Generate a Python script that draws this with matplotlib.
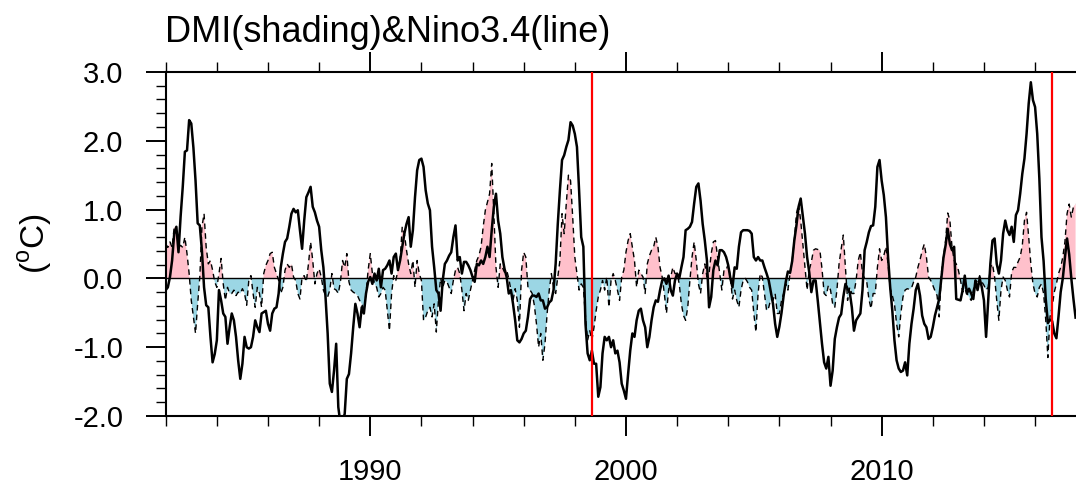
import numpy as np
import matplotlib
matplotlib.use("Agg")
import matplotlib.pyplot as plt
from matplotlib.ticker import FixedLocator, FixedFormatter

plt.rcParams['font.family'] = ['Liberation Sans', 'DejaVu Sans']
plt.rcParams['mathtext.fontset'] = 'custom'
plt.rcParams['mathtext.rm'] = 'Liberation Sans'
plt.rcParams['axes.unicode_minus'] = False

# ---------------- data (monthly, starting Jan 1982) ----------------
start_year = 1982

nino34 = [
    # 1982
    -0.17, -0.13, 0.02, 0.26, 0.65, 0.75, 0.38, 0.90, 1.33, 1.84, 1.86, 2.30,
    # 1983
    2.25, 1.90, 1.42, 0.80, 0.77, 0.40, -0.13, -0.39, -0.42, -0.85, -1.22, -1.10,
    # 1984
    -0.90, -0.17, -0.32, -0.51, -0.56, -0.95, -0.71, -0.51, -0.61, -0.85, -1.19, -1.46,
    # 1985
    -1.24, -0.85, -1.00, -1.02, -1.00, -0.85, -0.61, -0.71, -0.78, -0.51, -0.49, -0.47,
    # 1986
    -0.66, -0.76, -0.51, -0.44, -0.42, -0.22, 0.16, 0.36, 0.53, 0.58, 0.75, 0.94,
    # 1987
    1.01, 0.96, 0.99, 0.70, 0.43, 0.84, 1.18, 1.25, 1.33, 1.04, 0.96, 0.84,
    # 1988
    0.75, 0.41, 0.16, -0.27, -0.80, -1.53, -1.65, -1.34, -0.95, -1.87, -2.11, -2.06,
    # 1989
    -1.97, -1.46, -1.39, -1.09, -0.71, -0.37, -0.51, -0.71, -0.42, -0.51, -0.22, -0.05,
    # 1990
    0.02, -0.08, 0.07, -0.03, 0.14, -0.13, 0.12, 0.14, 0.19, 0.26, 0.07, 0.31,
    # 1991
    0.36, 0.12, 0.26, 0.46, 0.65, 0.79, 0.89, 0.46, 0.70, 1.18, 1.57, 1.72,
    # 1992
    1.74, 1.62, 1.28, 1.09, 0.99, 0.46, 0.16, -0.17, -0.22, -0.47, -0.03, 0.21,
    # 1993
    0.26, 0.33, 0.38, 0.60, 0.77, 0.26, 0.31, 0.07, 0.24, 0.24, 0.19, 0.12,
    # 1994
    0.02, -0.05, 0.21, 0.19, 0.26, 0.21, 0.31, 0.46, 0.31, 0.70, 1.04, 1.23,
    # 1995
    0.84, 0.65, 0.31, 0.14, 0.02, -0.22, -0.17, -0.37, -0.61, -0.90, -0.93, -0.88,
    # 1996
    -0.80, -0.76, -0.56, -0.30, -0.25, -0.25, -0.27, -0.22, -0.32, -0.32, -0.44, -0.42,
    # 1997
    -0.35, -0.32, -0.17, 0.21, 0.79, 1.28, 1.72, 1.79, 1.91, 2.01, 2.27, 2.22,
    # 1998
    2.10, 1.91, 1.28, 0.60, 0.46, -0.66, -1.09, -1.19, -1.05, -1.24, -1.24, -1.72,
    # 1999
    -1.58, -1.09, -0.85, -0.90, -0.85, -1.00, -0.90, -1.09, -1.05, -1.22, -1.53, -1.63,
    # 2000
    -1.75, -1.39, -1.05, -0.80, -0.85, -0.61, -0.47, -0.44, -0.61, -0.71, -1.00, -0.85,
    # 2001
    -0.61, -0.42, -0.32, -0.34, -0.17, -0.03, 0.00, -0.08, 0.04, -0.17, -0.25, -0.03,
    # 2002
    0.07, 0.00, 0.16, 0.31, 0.70, 0.72, 0.75, 0.82, 1.09, 1.33, 1.38, 1.13,
    # 2003
    0.79, 0.55, 0.26, -0.42, -0.27, 0.12, 0.26, 0.19, 0.41, 0.41, 0.38, 0.31,
    # 2004
    0.19, 0.00, -0.13, 0.16, 0.14, 0.46, 0.67, 0.70, 0.70, 0.70, 0.69, 0.65,
    # 2005
    0.31, 0.26, 0.31, 0.26, 0.26, 0.16, 0.07, -0.03, -0.20, -0.37, -0.66, -0.85,
    # 2006
    -0.70, -0.50, -0.25, -0.05, 0.10, 0.08, 0.25, 0.55, 0.77, 1.04, 1.16, 0.90,
    # 2007
    0.65, 0.31, 0.09, -0.20, -0.03, -0.03, -0.32, -0.63, -0.95, -1.22, -1.31, -1.14,
    # 2008
    -1.56, -1.34, -0.88, -0.71, -0.57, -0.52, -0.27, -0.08, -0.15, -0.20, -0.42, -0.76,
    # 2009
    -0.61, -0.56, -0.51, -0.17, 0.41, 0.53, 0.67, 0.76, 0.77, 1.04, 1.62, 1.72,
    # 2010
    1.42, 1.21, 0.89, 0.31, -0.13, -0.47, -0.90, -1.19, -1.31, -1.36, -1.34, -1.22,
    # 2011
    -1.41, -0.95, -0.66, -0.44, -0.17, -0.08, -0.25, -0.54, -0.66, -0.71, -0.88, -0.85,
    # 2012
    -0.71, -0.54, -0.42, -0.30, 0.00, 0.30, 0.48, 0.72, 0.50, 0.41, 0.46, -0.30,
    # 2013
    -0.31, -0.32, -0.17, 0.04, -0.22, -0.15, -0.22, -0.30, -0.03, -0.17, 0.00, -0.13,
    # 2014
    -0.32, -0.85, -0.32, 0.21, 0.55, 0.58, 0.21, 0.07, 0.26, 0.65, 0.84, 0.70,
    # 2015
    0.63, 0.75, 0.53, 0.92, 0.99, 1.23, 1.52, 1.74, 2.10, 2.54, 2.85, 2.59,
    # 2016
    2.49, 2.10, 1.45, 0.60, 0.25, -0.30, -0.65, -0.60, -0.62, -0.80, -0.87, -0.55,
    # 2017
    -0.20, 0.00, 0.30, 0.58, 0.35, 0.00, -0.30, -0.57,
]

dmi = [
    # 1982
    0.50, 0.45, 0.53, 0.45, 0.75, 0.70, 0.45, 0.48, 0.45, 0.60, 0.36, 0.07,
    # 1983
    -0.32, -0.56, -0.80, -0.37, 0.02, 0.75, 0.94, 0.45, 0.21, 0.26, 0.12, -0.05,
    # 1984
    -0.13, 0.07, 0.29, -0.08, -0.32, -0.13, -0.22, -0.22, -0.17, -0.25, -0.20, -0.22,
    # 1985
    -0.15, -0.22, -0.39, -0.03, 0.04, -0.22, -0.42, -0.13, -0.22, -0.42, 0.07, 0.19,
    # 1986
    0.26, 0.36, 0.38, 0.16, 0.07, -0.03, -0.22, -0.13, 0.12, 0.21, 0.16, 0.21,
    # 1987
    0.02, -0.03, -0.22, -0.30, 0.02, 0.04, -0.05, 0.21, 0.53, 0.26, -0.08, 0.07,
    # 1988
    0.14, 0.02, -0.17, -0.25, -0.27, -0.17, 0.07, -0.15, -0.17, -0.22, -0.05, 0.26,
    # 1989
    0.16, 0.36, -0.05, -0.17, -0.20, -0.22, -0.25, -0.32, -0.37, -0.47, -0.22, 0.12,
    # 1990
    0.36, 0.07, -0.08, -0.13, -0.27, -0.22, -0.13, -0.17, -0.47, -0.76, -0.22, 0.04,
    # 1991
    -0.03, 0.12, 0.26, 0.75, 0.65, 0.41, 0.21, 0.07, 0.26, -0.13, 0.26, 0.07,
    # 1992
    -0.03, -0.61, -0.56, -0.47, -0.42, -0.56, -0.37, -0.78, -0.32, 0.00, -0.13, -0.03,
    # 1993
    -0.05, -0.13, -0.22, -0.03, 0.12, 0.16, 0.07, -0.17, -0.47, -0.22, -0.32, -0.17,
    # 1994
    -0.03, 0.12, 0.26, 0.33, 0.46, 0.75, 0.99, 1.11, 1.23, 1.67, 0.94, 0.16,
    # 1995
    -0.13, 0.21, 0.16, 0.09, 0.12, 0.00, -0.17, -0.32, -0.15, -0.32, -0.71, 0.12,
    # 1996
    0.38, 0.31, -0.13, -0.17, -0.22, -0.39, -0.66, -1.00, -0.80, -1.19, -0.95, -0.51,
    # 1997
    -0.17, 0.07, -0.13, -0.22, 0.02, 0.26, 0.94, 0.65, 1.09, 1.50, 1.42, 0.89,
    # 1998
    0.31, 0.07, -0.17, -0.08, -0.13, -0.56, -0.90, -0.76, -0.90, -0.71, -0.47, -0.27,
    # 1999
    -0.17, -0.03, -0.17, 0.02, -0.42, -0.03, 0.07, -0.03, -0.17, -0.32, 0.02, 0.12,
    # 2000
    0.38, 0.55, 0.65, 0.46, 0.26, -0.13, 0.12, 0.07, 0.02, -0.22, 0.21, 0.33,
    # 2001
    0.41, 0.46, 0.60, 0.46, 0.16, 0.02, -0.22, -0.51, -0.17, 0.02, 0.16, 0.07,
    # 2002
    0.07, -0.08, -0.37, -0.54, -0.61, -0.42, -0.03, 0.31, 0.53, 0.26, -0.08, -0.22,
    # 2003
    0.07, 0.21, 0.02, 0.07, 0.36, 0.53, 0.55, 0.31, 0.07, -0.17, 0.12, 0.12,
    # 2004
    0.21, 0.02, -0.30, -0.17, -0.32, -0.42, -0.17, -0.03, 0.00, -0.05, -0.13, -0.17,
    # 2005
    -0.51, -0.78, -0.22, 0.07, 0.02, -0.22, -0.47, -0.42, -0.30, -0.32, -0.22, -0.51,
    # 2006
    -0.51, -0.32, -0.22, -0.08, -0.17, 0.07, 0.26, 0.55, 0.94, 1.08, 0.84, 0.50,
    # 2007
    0.16, -0.17, 0.12, 0.24, 0.41, 0.43, 0.42, 0.41, 0.14, -0.22, -0.25, -0.10,
    # 2008
    -0.17, -0.37, -0.42, -0.17, 0.21, 0.43, 0.63, 0.16, -0.32, -0.13, -0.22, -0.22,
    # 2009
    -0.03, 0.26, 0.38, 0.07, 0.00, -0.05, -0.30, -0.44, -0.22, -0.22, 0.16, 0.43,
    # 2010
    0.26, 0.33, 0.46, 0.21, -0.15, -0.25, -0.37, -0.66, -0.85, -0.51, -0.27, -0.17,
    # 2011
    -0.15, -0.16, -0.14, -0.05, 0.02, 0.16, 0.27, 0.40, 0.50, 0.31, 0.02, -0.03,
    # 2012
    -0.10, -0.18, -0.25, -0.56, 0.07, 0.31, 0.55, 0.95, 0.85, 0.46, 0.26, 0.21,
    # 2013
    0.12, -0.03, -0.20, -0.15, -0.22, -0.27, -0.32, -0.17, -0.03, -0.05, 0.04, -0.05,
    # 2014
    -0.10, -0.17, -0.13, 0.16, 0.21, 0.02, -0.32, -0.61, -0.17, 0.02, -0.03, -0.17,
    # 2015
    -0.27, 0.09, 0.16, 0.16, 0.24, 0.31, 0.48, 0.84, 0.96, 0.60, 0.21, -0.08,
    # 2016
    -0.22, -0.27, -0.13, -0.08, -0.22, -0.60, -1.15, -0.56, -0.42, -0.20, -0.08, 0.07,
    # 2017
    0.16, 0.31, 0.53, 0.94, 1.08, 0.89, 1.04, 1.08,
]

red_line_years = [1998.667, 2016.667]
title_text = "DMI(shading)&Nino3.4(line)"
ylabel_text = r"($^{\mathrm{o}}$C)"
x_major_ticks = [1990, 2000, 2010]
x_minor_ticks = [1982, 1984, 1986, 1988, 1992, 1994, 1996, 1998,
                 2002, 2004, 2006, 2008, 2012, 2014, 2016]
y_major_ticks = [-2.0, -1.0, 0.0, 1.0, 2.0, 3.0]
y_tick_labels = ["-2.0", "-1.0", "0.0", "1.0", "2.0", "3.0"]

# ---------------- figure ----------------
nino = np.array(nino34)
dm = np.array(dmi)
t = start_year + np.arange(len(nino)) / 12.0

fig = plt.figure(figsize=(10.76, 4.86), dpi=100)
ax = fig.add_axes([0.154, 0.144, 0.846, 0.708])
ax.set_xlim(1982, 2017.6)
ax.set_ylim(-2.0, 3.0)

ax.fill_between(t, dm, 0, where=dm >= 0, interpolate=True, color='#FFC0CB', lw=0, zorder=1)
ax.fill_between(t, dm, 0, where=dm <= 0, interpolate=True, color='#9BD6E4', lw=0, zorder=1)
ax.plot(t, dm, color='black', lw=1.0, ls=(0, (4, 3)), zorder=2)
ax.axhline(0, color='black', lw=1.0, zorder=3)
ax.plot(t, nino, color='black', lw=1.8, zorder=4)
for yr in red_line_years:
    ax.axvline(yr, color='red', lw=1.6, zorder=5)

for s in ['left', 'top', 'bottom']:
    ax.spines[s].set_linewidth(1.5)
ax.spines['right'].set_visible(False)

ax.xaxis.set_major_locator(FixedLocator(x_major_ticks))
ax.xaxis.set_minor_locator(FixedLocator(x_minor_ticks))
ax.set_xticklabels([str(v) for v in x_major_ticks])
ax.yaxis.set_major_locator(FixedLocator(y_major_ticks))
ax.yaxis.set_major_formatter(FixedFormatter(y_tick_labels))
ax.yaxis.set_minor_locator(FixedLocator(np.arange(-2.0, 3.01, 0.2)))

ax.tick_params(axis='both', which='major', direction='out', length=14.5, width=1.4,
               labelsize=21, pad=16)
ax.tick_params(axis='both', which='minor', direction='out', length=7.2, width=1.0)
ax.tick_params(axis='x', which='both', top=True, bottom=True)
ax.tick_params(axis='y', which='both', left=True, right=False)

fig.text(165 / 1076, 1 - 42 / 486, title_text, fontsize=26, ha='left', va='baseline')
fig.text(35 / 1076, 0.498, ylabel_text, fontsize=24, rotation=90, ha='center', va='center')

fig.savefig('out.png', dpi=100)
